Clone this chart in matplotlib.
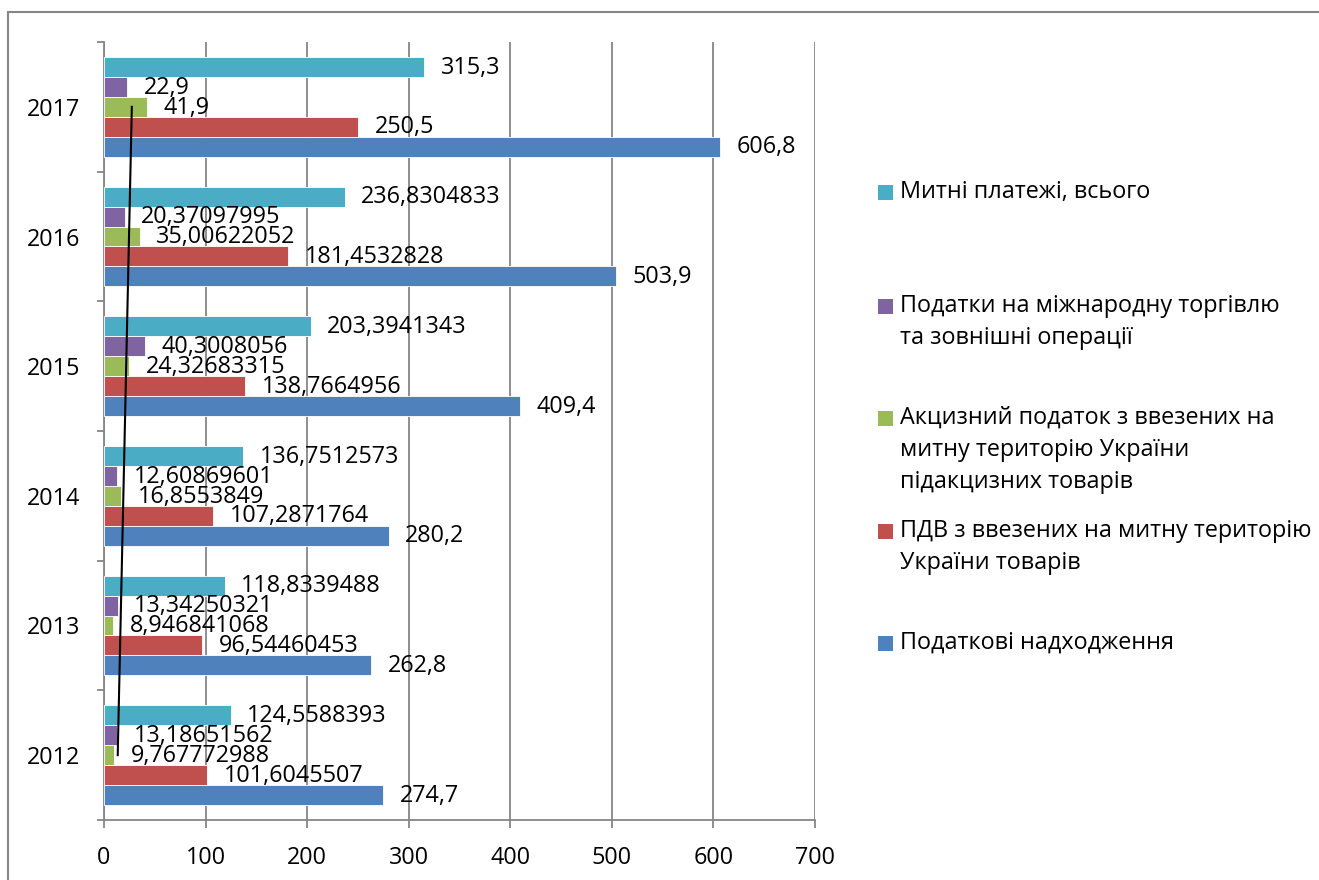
import numpy as np
import matplotlib
matplotlib.use("Agg")
import matplotlib.pyplot as plt
from matplotlib.patches import Rectangle

plt.rcParams['font.family'] = ['Open Sans', 'DejaVu Sans']

years = ['2012', '2013', '2014', '2015', '2016', '2017']

# series, bottom to top within each year group
tax_revenue = [274.7, 262.8, 280.2, 409.4, 503.9, 606.8]
vat_imports = [101.6045507, 96.54460453, 107.2871764, 138.7664956, 181.4532828, 250.5]
excise_imports = [9.767772988, 8.946841068, 16.8553849, 24.32683315, 35.00622052, 41.9]
trade_taxes = [13.18651562, 13.34250321, 12.60869601, 40.3008056, 20.37097995, 22.9]
customs_total = [124.5588393, 118.8339488, 136.7512573, 203.3941343, 236.8304833, 315.3]

tax_revenue_lbl = ['274,7', '262,8', '280,2', '409,4', '503,9', '606,8']
vat_imports_lbl = ['101,6045507', '96,54460453', '107,2871764', '138,7664956', '181,4532828', '250,5']
excise_imports_lbl = ['9,767772988', '8,946841068', '16,8553849', '24,32683315', '35,00622052', '41,9']
trade_taxes_lbl = ['13,18651562', '13,34250321', '12,60869601', '40,3008056', '20,37097995', '22,9']
customs_total_lbl = ['124,5588393', '118,8339488', '136,7512573', '203,3941343', '236,8304833', '315,3']

series_names = [
    'Податкові надходження',
    'ПДВ з ввезених на митну територію\nУкраїни товарів',
    'Акцизний податок з ввезених на\nмитну територію України\nпідакцизних товарів',
    'Податки на міжнародну торгівлю\nта зовнішні операції',
    'Митні платежі, всього',
]
colors = ['#4F81BD', '#C0504D', '#9BBB59', '#8064A2', '#4BACC6']

x_ticks = [0, 100, 200, 300, 400, 500, 600, 700]

W, H = 1319, 880
fig = plt.figure(figsize=(W / 100, H / 100), dpi=100)
fig.patch.set_facecolor('white')

# chart border (top and left edges visible)
fig.add_artist(Rectangle((8 / W, -0.01), 1.02, 1 - 12 / H + 0.01,
                         transform=fig.transFigure, fill=False,
                         edgecolor='#868686', lw=1.5))

ax = fig.add_axes([104 / W, 1 - 820 / H, (815 - 104) / W, (820 - 42) / H])

grid_col = '#868686'
fs = 16.8

data = [tax_revenue, vat_imports, excise_imports, trade_taxes, customs_total]
labels = [tax_revenue_lbl, vat_imports_lbl, excise_imports_lbl, trade_taxes_lbl, customs_total_lbl]

n = len(data)
group = 100 / 130
bh = group / n
ypos = np.arange(len(years))

for k, (vals, lbls, col) in enumerate(zip(data, labels, colors)):
    off = (k - (n - 1) / 2) * bh
    ax.barh(ypos + off, vals, height=bh, color=col, edgecolor='white',
            linewidth=0.6, zorder=3)
    for y, v, t in zip(ypos + off, vals, lbls):
        ax.annotate(t, (v, y), xytext=(12, -0.5), textcoords='offset points',
                    ha='left', va='center', fontsize=fs, color='black', zorder=5)

# linear trend of the international trade taxes series
coef = np.polyfit(ypos, trade_taxes, 1)
ax.plot(np.polyval(coef, ypos[[0, -1]]), ypos[[0, -1]], color='black',
        lw=1.5, zorder=6)

ax.set_xlim(0, 700)
ax.set_ylim(-0.5, len(years) - 0.5)
ax.set_xticks(x_ticks)
ax.set_xticklabels([str(v) for v in x_ticks], fontsize=fs)
ax.set_yticks(ypos)
ax.set_yticklabels(years, fontsize=fs)
ax.set_yticks(np.arange(-0.5, len(years), 1.0), minor=True)

ax.grid(axis='x', color=grid_col, lw=1.3, zorder=0)
ax.tick_params(axis='x', length=6, width=1.3, color=grid_col, pad=13)
ax.tick_params(axis='y', which='major', length=0, pad=17)
ax.tick_params(axis='y', which='minor', length=5, width=1.3, color=grid_col)

for s in ['top', 'right']:
    ax.spines[s].set_visible(False)
for s in ['left', 'bottom']:
    ax.spines[s].set_color(grid_col)
    ax.spines[s].set_linewidth(1.3)

# legend, listed top to bottom
leg_first = [192, 306, 418, 531, 643]
line_step = 32
for k, top_y in zip(range(n - 1, -1, -1), leg_first):
    fig.add_artist(Rectangle((878 / W, 1 - (top_y + 8) / H), 15 / W, 15 / H,
                             transform=fig.transFigure, facecolor=colors[k],
                             edgecolor='none'))
    for j, line in enumerate(series_names[k].split('\n')):
        fig.text(900 / W, 1 - (top_y + j * line_step) / H, line,
                 ha='left', va='center', fontsize=fs, color='black')

fig.savefig('out.png', dpi=100, facecolor='white')
